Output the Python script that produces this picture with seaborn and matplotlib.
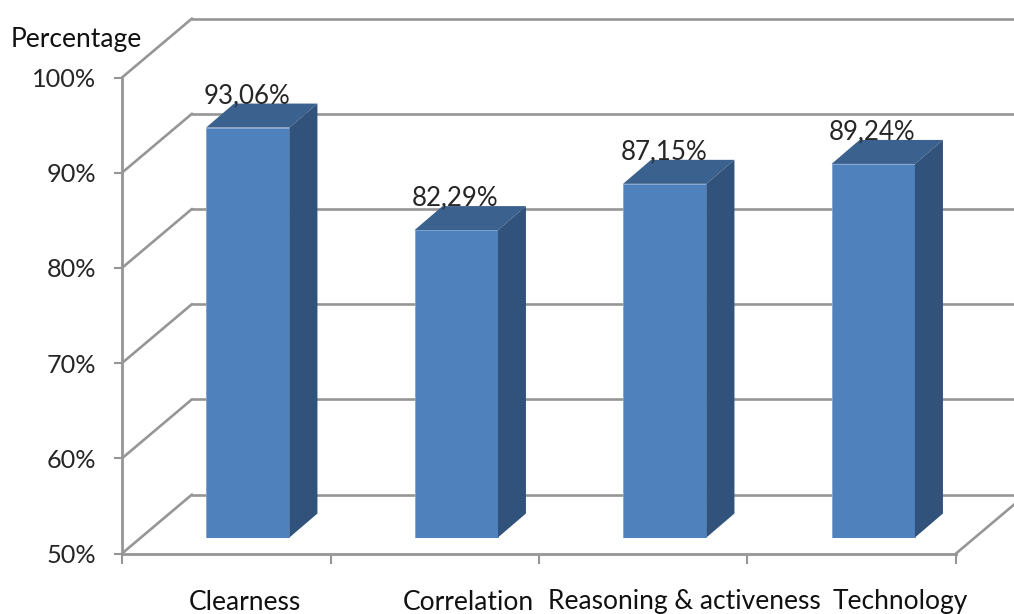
#!/usr/bin/env python3
import matplotlib
matplotlib.use("Agg")
import matplotlib.pyplot as plt
from matplotlib.patches import Polygon
import seaborn as sns

categories = ["Clearness", "Correlation", "Reasoning & activeness", "Technology"]
values = [93.06, 82.29, 87.15, 89.24]
value_labels = ["93,06%", "82,29%", "87,15%", "89,24%"]
y_ticks = [50, 60, 70, 80, 90, 100]
y_tick_labels = ["50%", "60%", "70%", "80%", "90%", "100%"]

W, H = 1014, 614
GRID = "#969696"
FRONT = "#4f81bd"
TOP = "#3b618e"
SIDE = "#31527b"
TEXT = "#262626"

sns.set_theme(style="white")
plt.rcParams["font.family"] = ["Lato", "DejaVu Sans"]


def px_axes(fig, left, bottom_y, width, height):
    # pixel box measured from the top left of the image
    return fig.add_axes([left / W, (H - bottom_y) / H, width / W, height / H])


fig = plt.figure(figsize=(W / 100, H / 100), dpi=100, facecolor="white")

# ── walls and floor ─────────────────────────────────────────────
ax = px_axes(fig, 122, 553.5, 834, 476)
ax.set_xlim(-0.5, 3.5)
ax.set_ylim(50, 100)
ax.patch.set_alpha(0)
unit_x = 834 / 4
unit_y = 476 / 50
wall_dx = 70 / unit_x
wall_dy = 59 / unit_y

for s in ["top", "right"]:
    ax.spines[s].set_visible(False)
for s in ["left", "bottom"]:
    ax.spines[s].set_color(GRID)
    ax.spines[s].set_linewidth(2)

for v in y_ticks:
    ax.plot([-0.5, -0.5 + wall_dx], [v, v + wall_dy], color=GRID, lw=1.9, clip_on=False, zorder=1)
    ax.plot([-0.5 + wall_dx, 3.5 + wall_dx], [v + wall_dy, v + wall_dy], color=GRID, lw=1.9,
            clip_on=False, zorder=1)
ax.plot([3.5, 3.5 + wall_dx], [50, 50 + wall_dy], color=GRID, lw=1.9, clip_on=False, zorder=1)

ax.set_yticks(y_ticks)
ax.set_yticklabels(y_tick_labels, fontsize=18.2, color=TEXT, va="center_baseline")
ax.set_xticks([i - 0.5 for i in range(len(categories) + 1)])
ax.set_xticklabels([])
ax.tick_params(axis="y", left=True, length=5.5, width=1.5, color=GRID, pad=13)
ax.tick_params(axis="x", bottom=True, length=7, width=1.5, color=GRID)

# ── bars, same scale but pushed into the depth of the floor ─────
ax_bar = px_axes(fig, 143.5, 537.5, 834, 476)
ax_bar.patch.set_alpha(0)
sns.barplot(x=categories, y=values, ax=ax_bar, width=0.4, color=FRONT, saturation=1,
            edgecolor="#7fa3cf", linewidth=0.6)
ax_bar.set_xlim(-0.5, 3.5)
ax_bar.set_ylim(50, 100)
ax_bar.axis("off")

bar_dx = 28 / unit_x
bar_dy = 24 / unit_y
for bar, val, label in zip(ax_bar.patches, values, value_labels):
    x0 = bar.get_x()
    x1 = x0 + bar.get_width()
    ax_bar.add_patch(Polygon([(x0, val), (x1, val), (x1 + bar_dx, val + bar_dy), (x0 + bar_dx, val + bar_dy)],
                             closed=True, facecolor=TOP, edgecolor="none", clip_on=False, zorder=3))
    ax_bar.add_patch(Polygon([(x1, 50), (x1 + bar_dx, 50 + bar_dy), (x1 + bar_dx, val + bar_dy), (x1, val)],
                             closed=True, facecolor=SIDE, edgecolor="none", clip_on=False, zorder=3))
    ax_bar.annotate(label, (x0 + bar.get_width() / 2 - 0.005, val), xytext=(0, 17.5), textcoords="offset points",
                    ha="center", va="baseline", fontsize=18.6, color=TEXT, zorder=5, annotation_clip=False)

# ── labels that do not sit on the category centres in the original ──
label_x = [245, 468, 684, 900]
for cat, x in zip(categories, label_x):
    fig.text(x / W, (H - 609.5) / H, cat, ha="center", va="baseline", fontsize=19, color="#111111")
fig.text(11 / W, (H - 46.5) / H, "Percentage", ha="left", va="baseline", fontsize=19, color="#111111")

fig.savefig("out.png", dpi=100, facecolor="white")
